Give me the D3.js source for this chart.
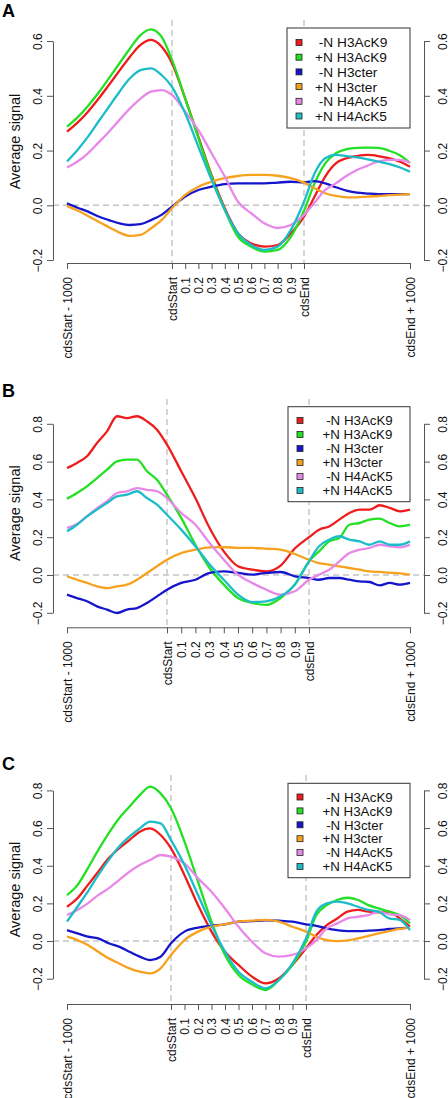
<!DOCTYPE html>
<html><head><meta charset="utf-8">
<script src="https://cdn.jsdelivr.net/npm/d3@7"></script>
<style>
html,body{margin:0;padding:0;background:#fff;}
svg{display:block;font-family:"Liberation Sans",Arial,sans-serif;}
</style></head>
<body>
<svg id="chart" width="448" height="1098"></svg>
<script>
// ---------- data ----------
const positions = [0,0.1,0.2,0.3,0.4,0.5,0.6,0.7,0.8,0.9,1.0,1.1,1.2,1.3,1.4,1.5,1.6,1.7,1.8,1.9,2.0,2.1,2.2,2.3,2.4,2.5,2.6,2.7,2.8,2.9,3.0];
const tickPositions = [0,1,1.1,1.2,1.3,1.4,1.5,1.6,1.7,1.8,1.9,2,3];
const tickLabels = ["cdsStart - 1000","cdsStart","0.1","0.2","0.3","0.4","0.5","0.6","0.7","0.8","0.9","cdsEnd","cdsEnd + 1000"];
const seriesNames = ["-N H3AcK9","+N H3AcK9","-N H3cter","+N H3cter","-N H4AcK5","+N H4AcK5"];
const seriesColors = ["#ee1c1c","#22e022","#1515cc","#f7a21e","#e888e8","#1cbcc8"];
const panelLetters = ["A","B","C"];
const yTicksA = [-0.2,0,0.2,0.4,0.6];
const yTicksBC = [-0.2,0,0.2,0.4,0.6,0.8];

// Panel A
const aNegH3AcK9 = [0.269,0.302,0.342,0.389,0.44,0.492,0.543,0.586,0.604,0.58,0.519,0.39,0.25,0.11,-0.011,-0.102,-0.139,-0.151,-0.145,-0.102,-0.041,0.032,0.105,0.153,0.172,0.18,0.184,0.18,0.172,0.16,0.141];
const aPosH3AcK9 = [0.287,0.321,0.363,0.411,0.464,0.519,0.573,0.622,0.643,0.616,0.531,0.39,0.245,0.105,-0.017,-0.115,-0.151,-0.169,-0.163,-0.115,-0.02,0.08,0.153,0.19,0.205,0.21,0.211,0.21,0.2,0.184,0.155];
const aNegH3cter = [0.007,-0.009,-0.023,-0.041,-0.054,-0.066,-0.072,-0.069,-0.054,-0.035,-0.005,0.032,0.056,0.068,0.077,0.08,0.08,0.08,0.083,0.086,0.084,0.088,0.08,0.066,0.054,0.046,0.043,0.041,0.041,0.041,0.041];
const aPosH3cter = [-0.002,-0.019,-0.039,-0.06,-0.08,-0.1,-0.112,-0.108,-0.084,-0.054,-0.011,0.038,0.068,0.086,0.099,0.107,0.111,0.111,0.108,0.099,0.083,0.062,0.044,0.034,0.029,0.029,0.032,0.034,0.037,0.039,0.041];
const aNegH4AcK5 = [0.138,0.16,0.19,0.229,0.269,0.312,0.354,0.39,0.415,0.421,0.403,0.342,0.275,0.19,0.105,0.013,-0.029,-0.066,-0.083,-0.072,-0.035,0.01,0.056,0.08,0.107,0.129,0.145,0.16,0.166,0.166,0.156];
const aPosH4AcK5 = [0.16,0.202,0.251,0.306,0.36,0.415,0.464,0.494,0.5,0.476,0.433,0.336,0.214,0.093,-0.017,-0.102,-0.145,-0.163,-0.151,-0.09,0.013,0.117,0.172,0.184,0.18,0.175,0.168,0.16,0.151,0.139,0.123];

// Panel B
const bNegH3AcK9 = [0.566,0.593,0.628,0.698,0.76,0.84,0.83,0.84,0.813,0.769,0.69,0.549,0.407,0.249,0.125,0.046,0.028,0.019,0.05,0.14,0.2,0.24,0.257,0.293,0.328,0.346,0.346,0.369,0.355,0.337,0.346];
const bPosH3AcK9 = [0.404,0.434,0.469,0.513,0.557,0.601,0.61,0.61,0.549,0.504,0.425,0.302,0.16,0.037,-0.051,-0.122,-0.148,-0.158,-0.122,-0.051,0.072,0.125,0.178,0.196,0.266,0.275,0.293,0.298,0.275,0.257,0.266];
const bNegH3cter = [-0.104,-0.122,-0.139,-0.166,-0.183,-0.201,-0.183,-0.175,-0.148,-0.113,-0.078,-0.042,-0.025,0.011,0.019,0.011,0.002,0.011,0.016,-0.007,-0.016,-0.025,-0.016,-0.016,-0.025,-0.034,-0.037,-0.055,-0.042,-0.051,-0.042];
const bPosH3cter = [-0.007,-0.025,-0.042,-0.06,-0.069,-0.06,-0.051,-0.025,0.011,0.046,0.081,0.116,0.134,0.146,0.148,0.143,0.143,0.139,0.134,0.111,0.081,0.063,0.055,0.046,0.037,0.028,0.019,0.016,0.012,0.009,0.002];
const bNegH4AcK5 = [0.249,0.27,0.31,0.354,0.39,0.434,0.443,0.46,0.451,0.443,0.407,0.328,0.266,0.169,0.081,0.002,-0.042,-0.078,-0.104,-0.086,-0.025,0.002,0.028,0.072,0.116,0.134,0.143,0.16,0.152,0.146,0.16];
const bPosH4AcK5 = [0.231,0.266,0.31,0.346,0.381,0.416,0.425,0.443,0.407,0.372,0.319,0.24,0.152,0.055,-0.025,-0.104,-0.143,-0.139,-0.113,-0.051,0.072,0.152,0.187,0.205,0.187,0.178,0.16,0.178,0.16,0.16,0.178];

// Panel C
const cNegH3AcK9 = [0.182,0.227,0.297,0.368,0.439,0.492,0.536,0.581,0.598,0.563,0.492,0.35,0.191,0.05,-0.057,-0.127,-0.189,-0.225,-0.198,-0.127,-0.039,0.032,0.085,0.12,0.156,0.165,0.156,0.152,0.156,0.12,0.076];
const cPosH3AcK9 = [0.244,0.297,0.386,0.483,0.572,0.651,0.713,0.775,0.82,0.784,0.705,0.528,0.315,0.103,-0.074,-0.18,-0.23,-0.26,-0.207,-0.127,-0.004,0.138,0.191,0.218,0.23,0.218,0.191,0.173,0.156,0.138,0.094];
const cNegH3cter = [0.058,0.041,0.023,0.014,-0.012,-0.03,-0.057,-0.083,-0.101,-0.083,-0.012,0.05,0.071,0.081,0.089,0.103,0.106,0.11,0.108,0.103,0.089,0.081,0.067,0.058,0.053,0.053,0.055,0.058,0.064,0.067,0.071];
const cPosH3cter = [0.023,0.005,-0.021,-0.057,-0.092,-0.119,-0.145,-0.163,-0.172,-0.145,-0.074,0.005,0.05,0.076,0.089,0.103,0.108,0.112,0.103,0.076,0.05,0.023,0.005,0.0,0.004,0.014,0.028,0.041,0.053,0.064,0.071];
const cNegH4AcK5 = [0.138,0.165,0.2,0.244,0.28,0.324,0.368,0.404,0.43,0.457,0.448,0.412,0.333,0.262,0.173,0.076,-0.004,-0.065,-0.083,-0.074,-0.039,0.005,0.067,0.094,0.12,0.129,0.138,0.156,0.142,0.138,0.112];
const cPosH4AcK5 = [0.103,0.182,0.262,0.35,0.43,0.501,0.554,0.598,0.634,0.625,0.536,0.404,0.244,0.085,-0.057,-0.163,-0.216,-0.251,-0.207,-0.119,0.014,0.156,0.2,0.209,0.2,0.182,0.165,0.156,0.12,0.112,0.058];

const panelSeries = [
  [aNegH3AcK9,aPosH3AcK9,aNegH3cter,aPosH3cter,aNegH4AcK5,aPosH4AcK5],
  [bNegH3AcK9,bPosH3AcK9,bNegH3cter,bPosH3cter,bNegH4AcK5,bPosH4AcK5],
  [cNegH3AcK9,cPosH3AcK9,cNegH3cter,cPosH3cter,cNegH4AcK5,cPosH4AcK5]
];

// ---------- layout ----------
const layouts = [
  {top:20, bottom:263, yTicks:yTicksA, yDom:[-0.2,0.6], yRange:[260.05,41.05], xRange:[67,172,304,410],
   letterY:17, legend:{x:287,y:28,w:123,h:100,row0:42.5,dy:14.7,tx:315,fs:13.7}},
  {top:399, bottom:627.3, yTicks:yTicksBC, yDom:[-0.2,0.8], yRange:[612.8,423.8], xRange:[67,167,309,410],
   letterY:397, legend:{x:288,y:406.7,w:122,h:95,row0:420.5,dy:14,tx:322.5,fs:13.3}},
  {top:775, bottom:1004, yTicks:yTicksBC, yDom:[-0.2,0.8], yRange:[978.7,790.4], xRange:[67,171,306,410],
   letterY:770, legend:{x:288,y:783.3,w:122,h:94.4,row0:797,dy:13.9,tx:322.5,fs:13.3}}
];
const plotLeft = 53, plotRight = 424;

const svg = d3.select("#chart");

panelLetters.forEach((letter, p) => {
  const L = layouts[p];
  const g = svg.append("g");
  const x = d3.scaleLinear().domain([0,1,2,3]).range(L.xRange);
  const y = d3.scaleLinear().domain(L.yDom).range(L.yRange);

  // panel letter
  g.append("text").attr("x",2).attr("y",L.letterY)
    .attr("font-size",18).attr("font-weight","bold").attr("fill","#000").text(letter);

  // reference lines
  const dash = "6,4";
  g.append("line").attr("x1",plotLeft).attr("x2",plotRight).attr("y1",y(0)).attr("y2",y(0))
    .attr("stroke","#c4c4c4").attr("stroke-width",1.4).attr("stroke-dasharray",dash);
  [1,2].forEach(v => {
    g.append("line").attr("x1",x(v)).attr("x2",x(v)).attr("y1",L.top).attr("y2",L.bottom)
      .attr("stroke","#c4c4c4").attr("stroke-width",1.4).attr("stroke-dasharray",dash);
  });

  // series lines
  const line = d3.line().x((d,i)=>x(positions[i])).y(d=>y(d)).curve(d3.curveMonotoneX);
  panelSeries[p].forEach((vals, s) => {
    g.append("path").attr("d", line(vals)).attr("fill","none")
      .attr("stroke", seriesColors[s]).attr("stroke-width",2.3).attr("stroke-linejoin","round");
  });

  // left axis
  const fmt = d3.format(".1f");
  const la = g.append("g").attr("transform",`translate(${plotLeft},0)`)
    .call(d3.axisLeft(y).tickValues(L.yTicks).tickFormat(fmt).tickSize(6).tickSizeOuter(0));
  la.selectAll("text").attr("transform","rotate(-90)").attr("x",0).attr("y",-11).attr("dy",0)
    .attr("text-anchor","middle");
  // right axis
  const ra = g.append("g").attr("transform",`translate(${plotRight},0)`)
    .call(d3.axisRight(y).tickValues(L.yTicks).tickFormat(fmt).tickSize(6).tickSizeOuter(0));
  ra.selectAll("text").attr("transform","rotate(-90)").attr("x",0).attr("y",22.5).attr("dy",0)
    .attr("text-anchor","middle");
  // bottom axis
  const ba = g.append("g").attr("transform",`translate(0,${L.bottom})`)
    .call(d3.axisBottom(x).tickValues(tickPositions).tickFormat((d,i)=>tickLabels[i]).tickSize(6).tickSizeOuter(0));
  ba.selectAll("text").attr("transform","rotate(-90)").attr("x",-14).attr("y",0).attr("dy","0.36em")
    .attr("text-anchor","end");

  [la,ra,ba].forEach(a => {
    a.attr("font-family",null).attr("font-size",12);
    a.selectAll("path,line").attr("stroke","#555").attr("stroke-width",1);
    a.selectAll("text").attr("fill","#111");
  });

  // axis title
  g.append("text").attr("transform",`translate(19.5,${(L.top+L.bottom)/2}) rotate(-90)`)
    .attr("text-anchor","middle").attr("font-size",14.5).attr("fill","#111").text("Average signal");

  // legend
  const lg = L.legend;
  g.append("rect").attr("x",lg.x).attr("y",lg.y).attr("width",lg.w).attr("height",lg.h)
    .attr("fill","#fff").attr("stroke","#333").attr("stroke-width",1);
  seriesNames.forEach((name, s) => {
    const cy = lg.row0 + s*lg.dy;
    g.append("rect").attr("x",lg.x+9).attr("y",cy-3).attr("width",6).attr("height",6)
      .attr("fill",seriesColors[s]).attr("stroke","#222").attr("stroke-width",0.8);
    const label = name.startsWith("-") ? "\u00a0" + name : name;
    g.append("text").attr("x",lg.tx).attr("y",cy).attr("dy","0.36em")
      .attr("font-size",lg.fs).attr("fill","#111").text(label);
  });
});
</script>
</body></html>
